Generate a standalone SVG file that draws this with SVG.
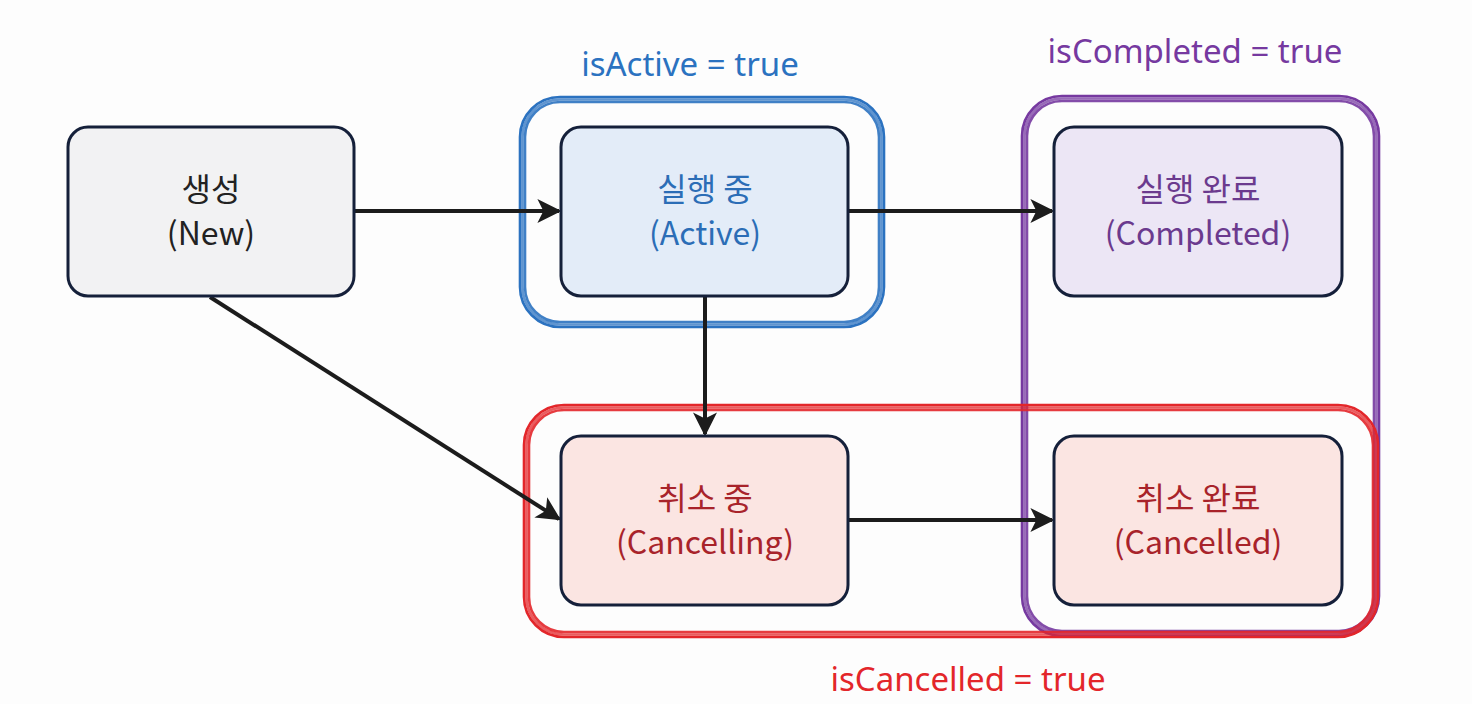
<svg xmlns="http://www.w3.org/2000/svg" width="1472" height="704" viewBox="0 0 1472 704">
<style>
.node{stroke:#15203a;stroke-width:3}
.t{font-family:"Noto Sans CJK KR","Noto Sans",sans-serif;font-size:32px;text-anchor:middle}
.lbl{font-family:"Noto Sans","Noto Sans CJK KR",sans-serif;font-size:33px;text-anchor:middle}
.edge{stroke:#1c1c1c;stroke-width:4;fill:none;marker-end:url(#ah)}
.g{fill:none;stroke-width:2.6}
</style>
<defs>
<marker id="ah" viewBox="0 0 10 10" refX="9" refY="5" markerWidth="6" markerHeight="6" orient="auto" markerUnits="strokeWidth">
<path d="M0,0 L10,5 L0,10 L2.5,5 Z" fill="#1c1c1c"/>
</marker>
</defs>
<rect width="1472" height="704" fill="#fdfdfd"/>

<g id="group-completed" stroke="#7639a0">
<rect class="g" x="1022" y="96" width="357" height="540" rx="40"/>
<rect class="g" x="1024.5" y="98.5" width="352" height="535" rx="37.5" opacity="0.75"/>
<rect class="g" x="1027" y="101" width="347" height="530" rx="35" opacity="0.9"/>
<text class="lbl" x="1195" y="63" fill="#7639a0" stroke="none">isCompleted = true</text>
</g>

<g id="group-cancelled" stroke="#e3262a">
<rect class="g" x="524" y="405" width="854" height="232" rx="40"/>
<rect class="g" x="526.5" y="407.5" width="849" height="227" rx="37.5" opacity="0.75"/>
<rect class="g" x="529" y="410" width="844" height="222" rx="35" opacity="0.9"/>
<text class="lbl" x="968" y="691" fill="#e3262a" stroke="none">isCancelled = true</text>
</g>

<g id="group-active" stroke="#2b72c0">
<rect class="g" x="520" y="97" width="364" height="230" rx="40"/>
<rect class="g" x="522.5" y="99.5" width="359" height="225" rx="37.5" opacity="0.75"/>
<rect class="g" x="525" y="102" width="354" height="220" rx="35" opacity="0.9"/>
<text class="lbl" x="690" y="76" fill="#2b72c0" stroke="none">isActive = true</text>
</g>

<g id="connectors">
<line class="edge" x1="354" y1="211" x2="559" y2="211"/>
<line class="edge" x1="848" y1="211" x2="1052" y2="211"/>
<line class="edge" x1="705" y1="296" x2="705" y2="434"/>
<line class="edge" x1="210" y1="297" x2="559" y2="519"/>
<line class="edge" x1="848" y1="520" x2="1052" y2="520"/>
</g>

<g id="node-new">
<rect class="node" x="68" y="127" width="286" height="169" rx="20" fill="#f2f2f3"/>
<text class="t" x="211" y="201" fill="#222">생성</text>
<text class="t" x="211" y="245" fill="#222">(New)</text>
</g>

<g id="node-active">
<rect class="node" x="561" y="127" width="287" height="169" rx="20" fill="#e3ecf8"/>
<text class="t" x="705" y="201" fill="#2b6db6">실행 중</text>
<text class="t" x="705" y="245" fill="#2b6db6">(Active)</text>
</g>

<g id="node-completed">
<rect class="node" x="1054" y="127" width="288" height="169" rx="20" fill="#ece6f5"/>
<text class="t" x="1198" y="201" fill="#6b3a8e">실행 완료</text>
<text class="t" x="1198" y="245" fill="#6b3a8e">(Completed)</text>
</g>

<g id="node-cancelling">
<rect class="node" x="561" y="436" width="287" height="169" rx="20" fill="#fbe5e2"/>
<text class="t" x="705" y="510" fill="#a8232a">취소 중</text>
<text class="t" x="705" y="554" fill="#a8232a">(Cancelling)</text>
</g>

<g id="node-cancelled">
<rect class="node" x="1054" y="436" width="288" height="169" rx="20" fill="#fbe5e2"/>
<text class="t" x="1198" y="510" fill="#a8232a">취소 완료</text>
<text class="t" x="1198" y="554" fill="#a8232a">(Cancelled)</text>
</g>
</svg>
